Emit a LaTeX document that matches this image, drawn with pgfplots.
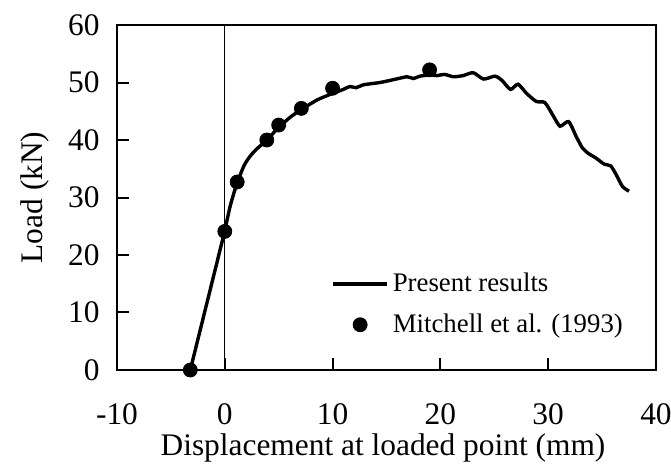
\documentclass[border=0pt]{standalone}
\usepackage{pgfplots}
\pgfplotsset{compat=1.18}
\usepackage{fontspec}
\setmainfont{Liberation Serif}

\pgfplotsset{
  linelegend/.style={legend image code/.code={\draw[##1] (0pt,0pt) -- (27pt,0pt);}},
  dotlegend/.style={legend image code/.code={\draw[##1] plot coordinates {(13.5pt,0pt)};}},
}

\pgfplotstableread{
x y
0 24.2
0.5 28.5
1.1 32.3
1.8 35.6
2.4 37.3
3.0 38.5
3.9 40.0
5.0 42.2
6.1 44.0
7.1 45.3
8.6 47.0
10.0 48.1
11.0 48.8
11.6 49.3
12.2 49.1
12.85 49.6
14.4 50.0
15.9 50.6
16.9 51.0
17.5 50.7
18.1 51.1
19.0 51.3
19.65 51.2
20.4 51.4
21.2 51.0
22.1 51.2
23.05 51.7
24.0 50.6
25.06 51.1
25.7 50.4
26.5 48.8
27.2 49.7
28.0 48.1
28.9 46.7
29.7 46.5
30.5 44.1
31.1 42.4
31.9 43.2
32.6 40.6
33.15 38.7
33.7 37.7
34.4 36.9
35.2 35.8
35.8 35.5
36.3 34.0
36.9 31.9
37.5 31.1
}\present

\pgfplotstableread{
x y
-3.2 0
0.0 24.1
1.15 32.7
3.9 40.0
5.0 42.6
7.1 45.5
10.0 49.0
19.0 52.2
}\mitchell

\begin{document}
\begin{tikzpicture}
\begin{axis}[
  scale only axis,
  width=269.5pt, height=172.5pt,
  xmin=-10, xmax=40, ymin=0, ymax=60,
  xtick={-10,0,...,40}, ytick={0,10,...,60},
  tick align=inside, xtick pos=bottom, ytick pos=left,
  major tick length=6pt,
  axis line style={line width=1pt},
  every tick/.style={black, line width=1pt},
  /pgf/number format/assume math mode=true,
  tick label style={font=\fontsize{15.7}{18}\selectfont, inner sep=0pt},
  xticklabel style={anchor=base, yshift=-27.25pt},
  yticklabel style={anchor=east, xshift=-8.5pt},
  label style={font=\fontsize{15.7}{18}\selectfont, inner sep=0pt},
  xlabel={Displacement at loaded point (mm)},
  ylabel={Load (kN)},
  xlabel style={at={(axis description cs:0.4935,-0.2464)}, anchor=base},
  ylabel style={at={(axis description cs:-0.1521,0.5)}, anchor=center},
  legend cell align=left,
  legend style={draw=none, fill=none, at={(rel axis cs:0.386,0.19)}, anchor=west,
    font=\fontsize{13.4}{16}\selectfont, row sep=5.5pt},
]
\addplot[black, line width=1.7pt, smooth, tension=0.4, linelegend] table {\present};
\addlegendentry{Present results}
\addplot[black, only marks, mark=*, mark size=3.5pt, dotlegend] table {\mitchell};
\addlegendentry{Mitchell et al. (1993)}
\addplot[black, line width=1.7pt, forget plot] coordinates {(-3.2,0) (0,24.2)};
\addplot[black, line width=0.65pt, forget plot] coordinates {(0,0) (0,60)};
\end{axis}
\pgfresetboundingbox
\path (-58.5pt,-50.5pt) rectangle (277pt,185pt);
\end{tikzpicture}
\end{document}
